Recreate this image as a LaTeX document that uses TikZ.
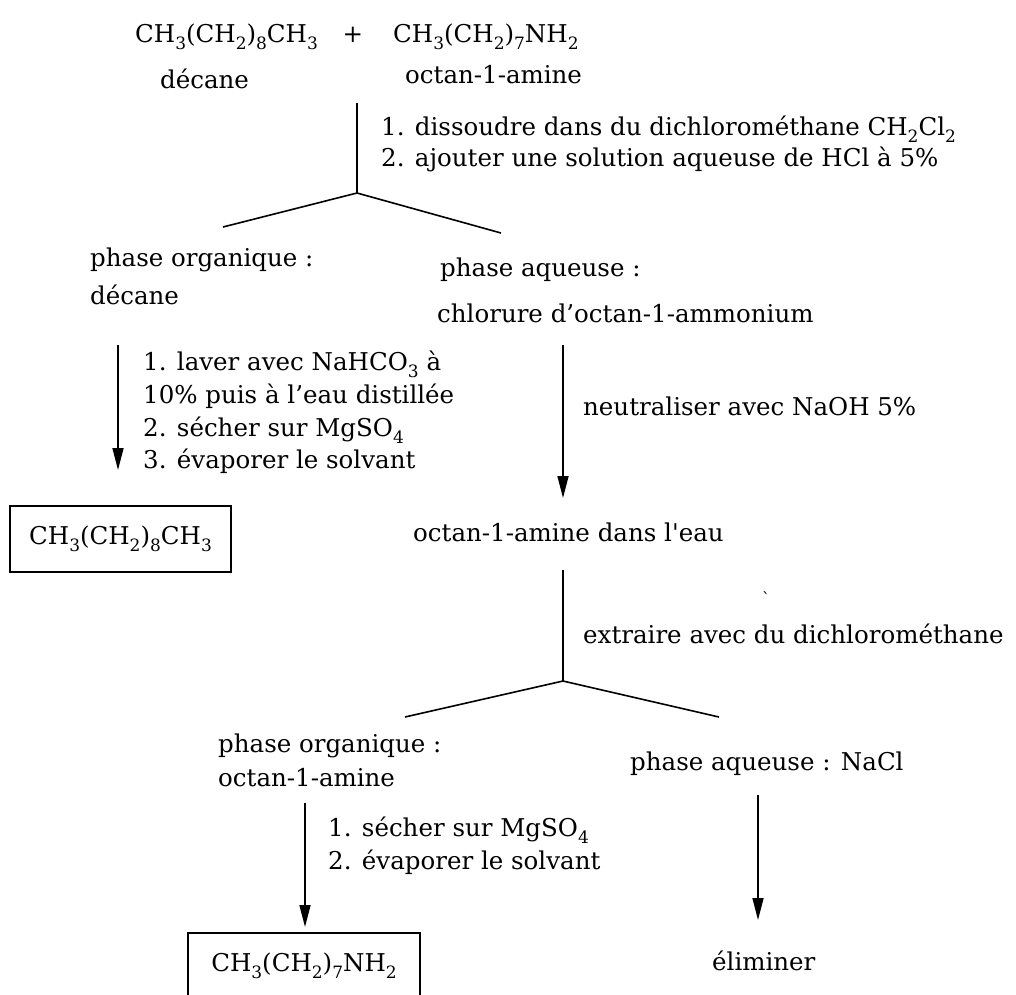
\documentclass[tikz,border=0pt]{standalone}
\usepackage{fontspec}
\setmainfont{DejaVu Serif}
\usepackage{tikz}
\usetikzlibrary{arrows.meta}
\newcommand{\chs}[1]{\raisebox{-0.3em}{\fontsize{17}{17}\selectfont #1}}

\begin{document}
\begin{tikzpicture}[x=1pt, y=-1pt,
  txt/.style={anchor=base west, inner sep=0pt, font=\fontsize{24.5}{30}\selectfont},
  prod/.style={draw, line width=1.6pt, minimum width=#1, minimum height=66pt,
               inner sep=0pt, font=\fontsize{24.5}{30}\selectfont},
  link/.style={line width=1.6pt},
  arr/.style={link, -{Stealth[length=22pt, width=11pt, inset=0pt]}}]
  \useasboundingbox (0,0) rectangle (1016,994);
  % start
  \node[txt] (dec) at (135,42) {CH\chs{3}(CH\chs{2})\chs{8}CH\chs{3}};
  \node[txt, anchor=base] (plus) at (353,42) {+};
  \node[txt] (oct) at (393,42) {CH\chs{3}(CH\chs{2})\chs{7}NH\chs{2}};
  \node[txt] (decn) at (160,88) {décane};
  \node[txt] (octn) at (405,83) {octan-1-amine};
  \coordinate (s1) at (357,103);
  \coordinate (j1) at (357,193);
  \coordinate (j1l) at (223,227);
  \coordinate (j1r) at (501,233);
  \draw[link] (s1) -- (j1);
  \draw[link] (j1l) -- (j1) -- (j1r);
  \node[txt] (e1a) at (381,135) {1. dissoudre dans du dichlorométhane CH\chs{2}Cl\chs{2}};
  \node[txt] (e1b) at (381,166) {2. ajouter une solution aqueuse de HCl à 5\%};
  % phases 1
  \node[txt] (po1) at (90,266) {phase organique :};
  \node[txt] (po1b) at (90,304) {décane};
  \node[txt] (pa1) at (440,276) {phase aqueuse :};
  \node[txt] (pa1b) at (437,322) {chlorure d’octan-1-ammonium};
  % left branch
  \coordinate (a1s) at (118,345);
  \coordinate (a1e) at (118,470);
  \draw[arr] (a1s) -- (a1e);
  \node[txt] (l1) at (143,370) {1. laver avec NaHCO\chs{3} à};
  \node[txt] (l2) at (143,403) {10\% puis à l’eau distillée};
  \node[txt] (l3) at (143,436) {2. sécher sur MgSO\chs{4}};
  \node[txt] (l4) at (143,468) {3. évaporer le solvant};
  \node[prod=221pt] (box1) at (120.5,539) {CH\chs{3}(CH\chs{2})\chs{8}CH\chs{3}};
  % right branch
  \coordinate (a2s) at (563,345);
  \coordinate (a2e) at (563,498);
  \draw[arr] (a2s) -- (a2e);
  \node[txt] (neu) at (583,415) {neutraliser avec NaOH 5\%};
  \node[txt] (aq) at (413,541) {octan-1-amine dans l\textquotesingle eau};
  \coordinate (s2) at (563,570);
  \coordinate (j2) at (563,681);
  \coordinate (j2l) at (405,717);
  \coordinate (j2r) at (719,717);
  \draw[link] (s2) -- (j2);
  \draw[link] (j2l) -- (j2) -- (j2r);
  \node[txt, font=\fontsize{16}{16}\selectfont] (acc) at (762,604) {\textasciigrave};
  \node[txt] (ext) at (583,643) {extraire avec du dichlorométhane};
  % phases 2
  \node[txt] (po2) at (218,752) {phase organique :};
  \node[txt] (po2b) at (218,786) {octan-1-amine};
  \node[txt] (pa2) at (630,770) {phase aqueuse : NaCl};
  \coordinate (a3s) at (305,803);
  \coordinate (a3e) at (305,927);
  \draw[arr] (a3s) -- (a3e);
  \node[txt] (m1) at (328,836) {1. sécher sur MgSO\chs{4}};
  \node[txt] (m2) at (328,869) {2. évaporer le solvant};
  \node[prod=232pt] (box2) at (304,966) {CH\chs{3}(CH\chs{2})\chs{7}NH\chs{2}};
  \coordinate (a4s) at (758,795);
  \coordinate (a4e) at (758,920);
  \draw[arr] (a4s) -- (a4e);
  \node[txt] (eli) at (712,970) {éliminer};
\end{tikzpicture}
\end{document}
